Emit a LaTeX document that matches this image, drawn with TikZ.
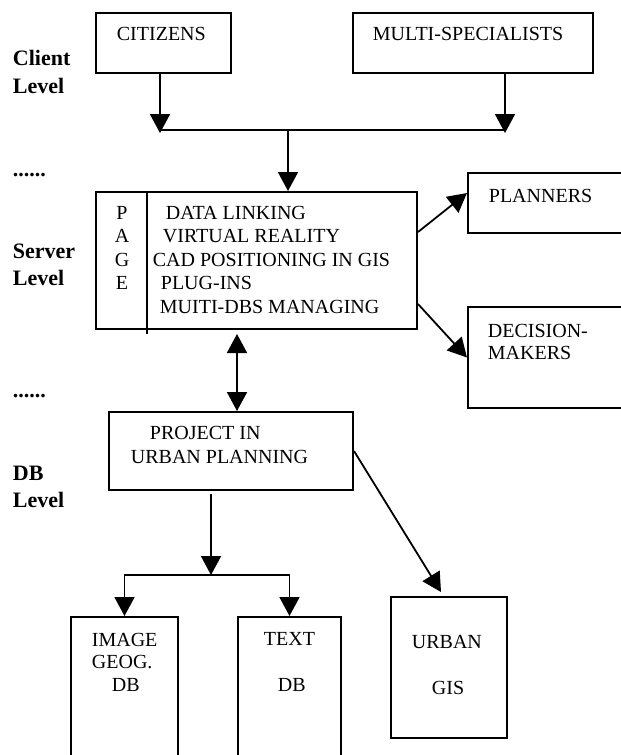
\documentclass[tikz,border=0pt]{standalone}
\usepackage{fontspec}
\setmainfont{Liberation Serif}
\usetikzlibrary{arrows.meta,positioning}

\begin{document}
\begin{tikzpicture}[x=1pt,y=-1pt,>={Triangle[width=20pt,length=19pt]},line width=1.8pt,
    box/.style={draw,line width=2pt,inner sep=0pt,anchor=north west},
    txt/.style={anchor=base west,inner sep=0pt,font=\fontsize{20}{23}\selectfont},
    lvl/.style={anchor=base west,inner sep=0pt,font=\fontsize{22}{27}\selectfont\bfseries}]

  \useasboundingbox (0,0) rectangle (621,755);

  % boxes
  \node[box,minimum width=135pt,minimum height=60pt]  (cit)    at (95,12)   {};
  \node[box,minimum width=240pt,minimum height=60pt]  (multi)  at (352,12)  {};
  \node[box,minimum width=321pt,minimum height=137pt] (server) at (95,191)  {};
  \node[box,minimum width=170pt,minimum height=60pt]  (plan)   at (467,172) {};
  \node[box,minimum width=170pt,minimum height=101pt] (dec)    at (467,306) {};
  \node[box,minimum width=244pt,minimum height=78pt]  (proj)   at (108,411) {};
  \node[box,minimum width=107pt,minimum height=160pt] (imgdb)  at (70,616)  {};
  \node[box,minimum width=103pt,minimum height=160pt] (txtdb)  at (237,616) {};
  \node[box,minimum width=116pt,minimum height=141pt] (urb)    at (390,596) {};
  \draw[line width=2pt] (server.north west) ++(52,0) -- ++(0,143);

  % level labels
  \node[lvl] (client) at (12,65)  {Client};
  \node[lvl] (clientl) at (12,93) {Level};
  \node[lvl] (dots1) at (12,176)  {......};
  \node[lvl] (serv) at (12,258)   {Server};
  \node[lvl] (servl) at (12,285)  {Level};
  \node[lvl] (dots2) at (12,397)  {......};
  \node[lvl] (db) at (12,480)     {DB};
  \node[lvl] (dbl) at (12,507)    {Level};

  % texts
  \node[txt] (tcit) at (116,40)   {CITIZENS};
  \node[txt] (tmulti) at (372,40) {MULTI-SPECIALISTS};
  \node[txt,anchor=base] (pg1) at (122,219) {P};
  \node[txt,anchor=base] (pg2) at (122,242) {A};
  \node[txt,anchor=base] (pg3) at (122,266) {G};
  \node[txt,anchor=base] (pg4) at (122,289) {E};
  \node[txt] (fn1) at (165,219) {DATA LINKING};
  \node[txt] (fn2) at (162,242) {VIRTUAL REALITY};
  \node[txt] (fn3) at (152,266) {CAD POSITIONING IN GIS};
  \node[txt] (fn4) at (160,289) {PLUG-INS};
  \node[txt] (fn5) at (159,313) {MUITI-DBS MANAGING};
  \node[txt] (tplan) at (488,202) {PLANNERS};
  \node[txt] (tdec1) at (487,337) {DECISION-};
  \node[txt] (tdec2) at (487,359) {MAKERS};
  \node[txt] (tproj1) at (149,439) {PROJECT IN};
  \node[txt] (tproj2) at (130,463) {URBAN PLANNING};
  \node[txt] (timg1) at (91,646)  {IMAGE};
  \node[txt] (timg2) at (91,668)  {GEOG.};
  \node[txt] (timg3) at (111,691) {DB};
  \node[txt] (ttxt1) at (263,645) {TEXT};
  \node[txt] (ttxt2) at (277,691) {DB};
  \node[txt] (turb1) at (411,648) {URBAN};
  \node[txt] (turb2) at (431,694) {GIS};

  % connectors
  \coordinate (joinl) at (160,130);
  \coordinate (joinr) at (505,130);
  \coordinate (joinc) at (288,130);
  \coordinate (split) at (211,575);

  \draw[->] (cit.south -| joinl) -- ([yshift=-3pt]joinl);
  \draw[->] (multi.south -| joinr) -- ([yshift=-3pt]joinr);
  \draw (joinl) -- (joinr);
  \draw[->] (joinc) -- (joinc |- server.north);
  \draw[->] ([yshift=-41pt]server.north east) -- ([yshift=-21pt]plan.north west);
  \draw[->] ([yshift=26pt]server.south east) -- (dec.west);
  \draw[<->] ([xshift=142pt,yshift=-4pt]server.south west) -- ([xshift=129pt]proj.north west);
  \draw[->] ([xshift=103pt,yshift=-3pt]proj.south west) -- (split);
  \draw[->] (split) -| (imgdb.north);
  \draw[->] (split) -| (txtdb.north);
  \draw[->] (proj.east) -- ([xshift=-8pt,yshift=4pt]urb.north);
\end{tikzpicture}
\end{document}
